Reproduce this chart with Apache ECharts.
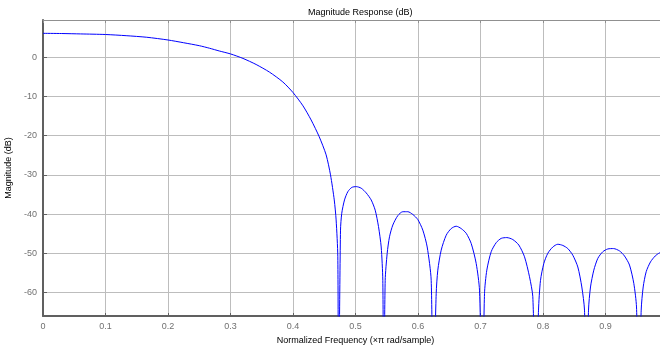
<!DOCTYPE html>
<html>
<head>
<meta charset="utf-8">
<script src="https://cdn.jsdelivr.net/npm/echarts@6/dist/echarts.min.js"></script>
<style>html,body{margin:0;padding:0;background:#fff}#c{width:660px;height:350px}</style>
</head>
<body>
<div id="c"></div>
<script>
var titleText = 'Magnitude Response (dB)';
var xName = 'Normalized Frequency (\u00d7\u03c0 rad/sample)';
var yName = 'Magnitude (dB)';
var yTicks = [-60, -50, -40, -30, -20, -10, 0];
var freq = [
  0, 0.03, 0.06, 0.1, 0.133, 0.166, 0.2, 0.225, 0.25, 0.2664, 0.282, 0.3, 0.32, 0.341, 0.3624, 0.3837, 0.4, 0.416, 0.429, 0.442, 0.453, 0.46, 0.466, 0.469, 0.4717, 0.4728,
  0.476, 0.478, 0.4824, 0.4877, 0.4941, 0.5011, 0.5091, 0.5171, 0.5251, 0.5315, 0.5368, 0.5411, 0.5437, 0.5451,
  0.5475, 0.5507, 0.5544, 0.5597, 0.5677, 0.5757, 0.5837, 0.5917, 0.5997, 0.6077, 0.6147, 0.6211, 0.6240,
  0.6291, 0.6317, 0.6371, 0.6451, 0.6531, 0.6611, 0.6691, 0.6771, 0.6851, 0.6931, 0.6984, 0.7030,
  0.7064, 0.7101, 0.7171, 0.7251, 0.7331, 0.7421, 0.7517, 0.7613, 0.7704, 0.7784, 0.7837, 0.7885,
  0.7928, 0.796, 0.8013, 0.8077, 0.8157, 0.8237, 0.8317, 0.8397, 0.8477, 0.8557, 0.8621, 0.8664, 0.8696,
  0.8728, 0.876, 0.8813, 0.8877, 0.8957, 0.9037, 0.9128, 0.9224, 0.9304, 0.9384, 0.9453, 0.9496, 0.9533,
  0.9571, 0.9603, 0.9651, 0.972, 0.9795, 0.9864, 1.0];
var magDb = [
  6.1, 6.05, 5.95, 5.8, 5.5, 5.1, 4.4, 3.7, 2.95, 2.3, 1.6, 0.85, -0.3, -1.85, -3.8, -6.3, -9.0, -12.4, -16.0, -20.3, -24.9, -30, -36.4, -41.5, -50.9, -90,
  -44.1, -39.8, -36.4, -34.3, -33.2, -33.0, -33.4, -34.6, -36.4, -39.0, -43.2, -48.4, -56.9, -90,
  -56.9, -50, -45.8, -42.8, -40.4, -39.4, -39.4, -40.1, -41.4, -44.1, -48.4, -56.9, -90,
  -60.3, -54.3, -49.2, -45.4, -43.7, -43.1, -43.7, -44.9, -47.5, -52.6, -59.4, -90,
  -60.3, -54.3, -49.6, -47.3, -46.2, -46.0, -46.5, -47.9, -50.9, -56.0, -61.1, -90,
  -64.5, -56.9, -52.6, -50, -48.4, -47.7, -48.0, -48.8, -50.5, -53.5, -58.6, -64.5, -90,
  -64.5, -58.6, -54.3, -51.3, -49.6, -48.9, -48.8, -49.4, -50.7, -53.0, -57.7, -63.7, -90,
  -64.5, -58.6, -54.7, -52.2, -50.7, -49.9, -49.0];

var pts = freq.map(function (f, i) { return [f, magDb[i]]; });
var chart = echarts.init(document.getElementById('c'), null, {renderer: 'canvas'});
var font = 'Liberation Sans, Arial, sans-serif';
chart.setOption({
  animation: false,
  title: {
    text: titleText, left: 303, top: 3,
    textStyle: {fontFamily: font, fontSize: 9, fontWeight: 'normal', color: '#000'}
  },
  grid: {left: 43, top: 20, width: 625, height: 296, show: false, outerBoundsMode: 'none', containLabel: false},
  xAxis: [{
    type: 'value', min: 0, max: 1, interval: 0.1, position: 'bottom',
    name: xName, nameLocation: 'middle', nameGap: 18,
    nameTextStyle: {fontFamily: font, fontSize: 9, color: '#000'},
    axisLine: {onZero: false, lineStyle: {color: '#606060', width: 2}},
    axisTick: {inside: true, length: 3, lineStyle: {color: '#606060'}},
    axisLabel: {fontFamily: font, fontSize: 9, color: '#707070', margin: 6,
      formatter: function (v) { return +v.toFixed(1) + ''; }},
    splitLine: {show: true, lineStyle: {color: '#bdbdbd', width: 1}}
  }, {
    type: 'value', min: 0, max: 1, interval: 0.1, position: 'top',
    axisLine: {onZero: false, lineStyle: {color: '#909090', width: 1}},
    axisTick: {inside: true, length: 3, lineStyle: {color: '#909090'}},
    axisLabel: {show: false}, splitLine: {show: false}
  }],
  yAxis: [{
    type: 'value', min: -66, max: 9.5,
    name: yName, nameLocation: 'middle', nameGap: 27, nameRotate: 90,
    nameTextStyle: {fontFamily: font, fontSize: 9, color: '#000'},
    axisLine: {show: true, onZero: false, lineStyle: {color: '#606060', width: 2}},
    axisTick: {show: true, inside: true, length: 4, customValues: yTicks, lineStyle: {color: '#606060'}},
    axisLabel: {fontFamily: font, fontSize: 9, color: '#707070', margin: 6, customValues: yTicks},
    splitLine: {show: true, lineStyle: {color: '#bdbdbd', width: 1}}
  }],
  series: [{
    type: 'line', data: pts, showSymbol: false, symbol: 'none', clip: true,
    smooth: 0.25,
    lineStyle: {color: '#0000ff', width: 1}, xAxisIndex: 0, yAxisIndex: 0
  }]
});
</script>
</body>
</html>
